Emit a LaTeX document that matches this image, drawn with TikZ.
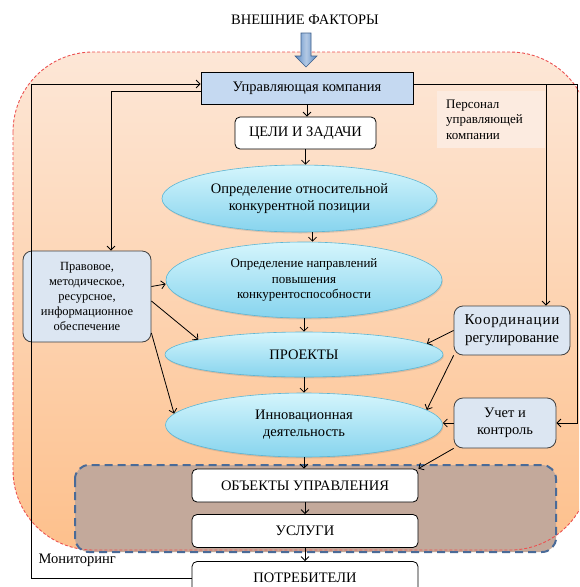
\documentclass[tikz,border=0pt]{standalone}
\usepackage{fontspec}
\setmainfont{Liberation Serif}
\usepackage{xcolor}
\usepackage{tikz}
\usetikzlibrary{positioning,arrows.meta,calc,shapes.geometric,shadows}

\definecolor{zonetop}{RGB}{253,231,215}
\definecolor{zonebot}{RGB}{253,192,140}
\definecolor{zoneline}{RGB}{236,80,80}
\definecolor{objfill}{RGB}{195,169,155}
\definecolor{objline}{RGB}{74,107,152}
\definecolor{ukfill}{RGB}{197,217,241}
\definecolor{sidefill}{RGB}{220,230,242}
\definecolor{ovtop}{RGB}{212,245,252}
\definecolor{ovbot}{RGB}{135,212,238}
\definecolor{ovline}{RGB}{92,182,212}
\definecolor{persfill}{RGB}{252,235,224}
\definecolor{bluearr}{RGB}{88,136,196}

\tikzset{
  arr/.style={-{Straight Barb[length=4pt,width=8pt]}, line width=0.8pt},
  ukbox/.style={draw, line width=0.8pt, fill=ukfill, minimum width=212, minimum height=32},
  wbox/.style={draw, line width=0.8pt, fill=white, rounded corners=5pt, minimum width=226, minimum height=33},
  oval/.style={ellipse, draw=ovline, line width=0.6pt, top color=ovtop, bottom color=ovbot,
    align=center, inner sep=0pt, drop shadow={opacity=0.25, shadow xshift=0.8pt, shadow yshift=-1.5pt}},
  sidebox/.style={draw=black!75, line width=0.8pt, fill=sidefill, rounded corners=9pt, align=center},
  small/.style={font=\fontsize{13}{15.5}\selectfont},
}

\begin{document}
\begin{tikzpicture}[x=1pt, y=-1pt, font=\fontsize{14.5}{17}\selectfont]
\useasboundingbox (0,0) rectangle (579,587);
\clip (0,0) rectangle (579,587);
\fill[white] (0,0) rectangle (579,587);
% shaded zone and the dashed objects zone
\shade[top color=zonetop, bottom color=zonebot, rounded corners=80pt] (13,52) rectangle (590,550);
\fill[objfill, rounded corners=14pt] (75,465) rectangle (556,552);
\draw[zoneline, line width=0.9pt, dash pattern=on 3pt off 2pt, rounded corners=80pt] (13,52) rectangle (590,550);
\draw[objline, line width=2pt, dash pattern=on 8pt off 5pt, rounded corners=14pt] (75,465) rectangle (556,552);
% external factors
\node (vf) at (305,20) {ВНЕШНИЕ ФАКТОРЫ};
\shade[draw=bluearr!70!black, line width=0.6pt, left color=bluearr, right color=bluearr, middle color=bluearr!45!white]
  (301,33) -- (311,33) -- (311,56) -- (317,56) -- (306,67) -- (295,56) -- (301,56) -- cycle;
% main column
\node[ukbox] (uk) at (307,88) {Управляющая компания};
\node[wbox, minimum width=141, minimum height=32] (cz) at (305.5,133) {ЦЕЛИ И ЗАДАЧИ};
\node[oval, minimum width=275, minimum height=67] (o1) at (299.5,198.5) {Определение относительной\\конкурентной позиции};
\node[oval, small, minimum width=276, minimum height=76] (o2) at (304,280) {Определение направлений\\повышения\\конкурентоспособности};
\node[oval, minimum width=278, minimum height=45] (o3) at (304,354.5) {ПРОЕКТЫ};
\node[oval, minimum width=277, minimum height=64] (o4) at (304,425) {Инновационная\\деятельность};
\node[wbox] (ob) at (305,485.5) {ОБЪЕКТЫ УПРАВЛЕНИЯ};
\node[wbox] (us) at (305,531) {УСЛУГИ};
\node[wbox] (pt) at (305,578) {ПОТРЕБИТЕЛИ};
% side blocks
\node[sidebox, font=\fontsize{12.5}{15}\selectfont, minimum width=128, minimum height=91] (pr) at (87,296.5) {Правовое,\\методическое,\\ресурсное,\\информационное\\обеспечение};
\node[sidebox, font=\fontsize{15}{18}\selectfont, minimum width=116, minimum height=49] (kr) at (512,330.5) {{\addfontfeature{LetterSpace=6}Координации}\\регулирование};
\node[sidebox, minimum width=102, minimum height=50] (uc) at (505,423) {Учет и\\контроль};
\node[small, fill=persfill, anchor=north west, text width=90, inner xsep=9pt, minimum height=57, align=left] (ps) at (437,91) {Персонал\\управляющей\\компании};
\node[anchor=west] (mn) at (35,560) {Мониторинг};
% connectors
\draw[arr] (uk.south) -- (uk.south |- cz.north);
\draw[arr] (cz.south) -- (cz.south |- o1.north);
\draw[arr] ([xshift=13pt]o1.south) -- ([xshift=13pt]o1.south |- o2.north);
\draw[arr] (o2.south) -- (o2.south |- o3.north);
\draw[arr] (o3.south) -- (o3.south |- o4.north);
\draw[arr] (o4.south) -- (o4.south |- ob.north);
\draw[arr] (ob.south) -- (us.north);
\draw[arr] (us.south) -- (pt.north);
\draw[arr] ([yshift=10pt]pr.east) -- ([yshift=-4pt]o2.west);
\draw[arr] ([yshift=-4.5pt]pr.east) -- (o3.172);
\draw[arr] ([yshift=-36.5pt]pr.east) -- (o4.175);
\draw[arr] (kr.west) -- (o3.5);
\draw[arr] (kr.south west) -- (o4.7);
\draw[arr] (uc.west) -- (uc.west -| o4.east);
\draw[arr] (uc.south west) -- (ob.north east);
% feedback lines
\coordinate (mc) at (31,84);
\coordinate (ur) at ([yshift=4pt]uk.east);
\coordinate (kin) at ([xshift=34pt]kr.north);
\draw[arr] (pt.west) -| (mc) -- (mc -| uk.west);
\draw[arr] ([yshift=-3pt]uk.west) -| ([xshift=24pt]pr.north);
\draw[arr] (ur) -| ([xshift=21pt]uc.east) -- (uc.east);
\draw[arr] (kin |- ur) -- (kin);
\end{tikzpicture}
\end{document}
